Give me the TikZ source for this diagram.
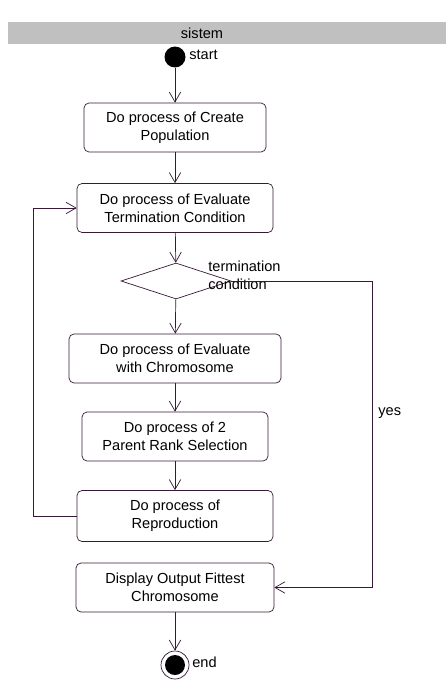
\documentclass[tikz,border=0pt]{standalone}
\usepackage{fontspec}
\setmainfont{Liberation Sans}
\usetikzlibrary{arrows.meta,shapes.geometric}
\definecolor{lncol}{RGB}{55,25,55}
\definecolor{bandgray}{RGB}{192,192,192}
\tikzset{
  act/.style={draw=lncol, rounded corners=0.1cm, minimum height=0.98cm, align=center, inner sep=0pt},
  flow/.style={draw=lncol, -{Straight Barb[length=2mm,width=2.3mm]}},
  lbl/.style={inner sep=0pt, anchor=west, align=left},
}

\begin{document}
\begin{tikzpicture}[x=0.02cm, y=-0.02cm, font=\fontsize{8.3}{10.2}\selectfont]
			%%%%% START %%%%%
			\useasboundingbox (0,0) rectangle (446,693);
			
			% swimlane header
			\fill[bandgray] (8,22) rectangle (446,44);
			\node (lane) at (202,33) {sistem};
			
			% start
			\node[circle, fill=black, minimum size=0.42cm, inner sep=0pt] (start) at (175,57) {};
			\node[lbl] (startlbl) at (189,55) {start};
			
			% activities
			\node[act, minimum width=3.64cm] (create) at (175,127.5) {Do process of Create\\Population};
			\node[act, minimum width=3.92cm] (evalterm) at (175,208) {Do process of Evaluate\\Termination Condition};
			\node[diamond, draw=lncol, minimum width=2.2cm, minimum height=0.72cm, inner sep=0pt] (cond) at (176,281) {};
			\node[lbl] (condlbl) at (208,275) {termination\\condition};
			\node[act, minimum width=4.24cm] (evalchrom) at (175,358.5) {Do process of Evaluate\\with Chromosome};
			\node[act, minimum width=3.72cm] (select) at (175,436.5) {Do process of 2\\Parent Rank Selection};
			\node[act, minimum width=3.92cm, minimum height=1.02cm] (repro) at (175,516) {Do process of\\Reproduction};
			\node[act, minimum width=3.96cm] (display) at (175,587.5) {Display Output Fittest\\Chromosome};
			
			% end
			\node[circle, draw=lncol, fill=white, minimum size=0.56cm, inner sep=0pt] (stop) at (175,665) {};
			\fill[black] (stop) circle (10);
			\node[lbl] (stoplbl) at (192,662) {end};
			
			% flows
			\draw[flow] (start) -- (create);
			\draw[flow] (create) -- (evalterm);
			\draw[flow] (evalterm) -- (cond);
			\draw[flow] (cond) -- (evalchrom);
			\draw[flow] (evalchrom) -- (select);
			\draw[flow] (select) -- (repro);
			\draw[flow] (repro.west) -- ++(-43,0) |- (evalterm.west);
			\coordinate (yesturn) at (372,281);
			\draw[flow] (cond.east) -- (yesturn) |- node[lbl, pos=0.215, xshift=0.12cm] (yeslbl) {yes} (display.east);
			\draw[flow] (display) -- (stop);
			
			%%%%% END %%%%%
\end{tikzpicture}
\end{document}
